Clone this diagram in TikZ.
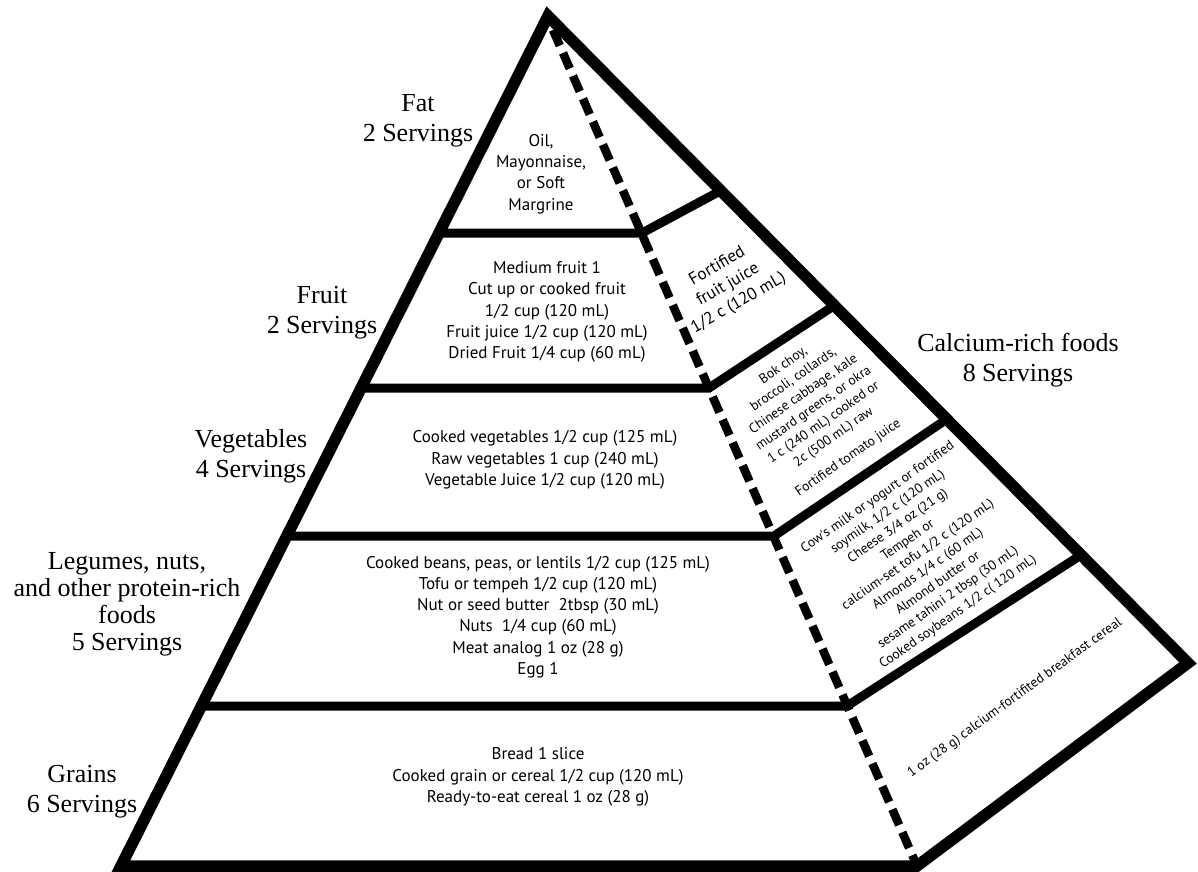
\documentclass[tikz,border=0pt]{standalone}
\usepackage{fontspec}
\setmainfont{Liberation Serif}
\newfontfamily\bodyfont{PT Sans}
\begin{document}
\begin{tikzpicture}[x=1pt,y=-1pt,
  outline/.style={line width=11.5pt, line join=miter},
  divider/.style={line width=9pt, line join=miter},
  dashline/.style={line width=8.5pt, dash pattern=on 17pt off 8pt},
  lab/.style={font=\fontsize{26}{30}\selectfont, align=center, inner sep=0pt},
  body/.style={font=\bodyfont\fontsize{17}{21.3}\selectfont, align=center, inner sep=0pt},
  smallbody/.style={font=\bodyfont\fontsize{13.6}{17.5}\selectfont, align=center, inner sep=0pt}]
\useasboundingbox (0,0) rectangle (1198,871);
% corners
\coordinate (A) at (548,16);
\coordinate (BL) at (121,866);
\coordinate (BR) at (917,866);
\coordinate (RB) at (1188,663);
\coordinate (D0) at (553,30);
% dividers
\coordinate (L1) at (437,233); \coordinate (M1) at (642,233); \coordinate (R1) at (722,190);
\coordinate (L2) at (359,388); \coordinate (M2) at (709,388); \coordinate (R2) at (835,305);
\coordinate (L3) at (286,536); \coordinate (M3) at (774,536); \coordinate (R3) at (947,419);
\coordinate (L4) at (201,706); \coordinate (M4) at (847,706); \coordinate (R4) at (1081,555);
\draw[divider] (L1) -- (M1) -- (R1);
\draw[divider] (L2) -- (M2) -- (R2);
\draw[divider] (L3) -- (M3) -- (R3);
\draw[divider] (L4) -- (M4) -- (R4);
\draw[dashline] (D0) -- (BR);
\draw[outline] (A) -- (BL) -- (BR) -- (RB) -- cycle;
% contents
\node[body] (tfat) at (541,174) {Oil,\\Mayonnaise,\\or Soft\\Margrine};
\node[body] (tfruit) at (547,312) {Medium fruit 1\\Cut up or cooked fruit\\1/2 cup (120 mL)\\Fruit juice 1/2 cup (120 mL)\\Dried Fruit 1/4 cup (60 mL)};
\node[body] (tveg) at (545,460) {Cooked vegetables 1/2 cup (125 mL)\\Raw vegetables 1 cup (240 mL)\\Vegetable Juice 1/2 cup (120 mL)};
\node[body] (tleg) at (538,617) {Cooked beans, peas, or lentils 1/2 cup (125 mL)\\Tofu or tempeh 1/2 cup (120 mL)\\Nut or seed butter\ \ 2tbsp (30 mL)\\Nuts\ \ 1/4 cup (60 mL)\\Meat analog 1 oz (28 g)\\Egg 1};
\node[body] (tgrain) at (538,777) {Bread 1 slice\\Cooked grain or cereal 1/2 cup (120 mL)\\Ready-to-eat cereal 1 oz (28 g)};
\node[body, rotate=30] (tjuice) at (728,285) {Fortified\\fruit juice\\1/2 c (120 mL)};
\node[smallbody, rotate=35] (tbok) at (816,412) {Bok choy,\\broccoli, collards,\\Chinese cabbage, kale\\mustard greens, or okra\\1 c (240 mL) cooked or\\2c (500 mL) raw\\[8pt]Fortified tomato juice};
\node[smallbody, rotate=35] (tcow) at (918,555) {Cow's milk or yogurt or fortified\\soymilk, 1/2 c (120 mL)\\Cheese 3/4 oz (21 g)\\Tempeh or\\calcium-set tofu 1/2 c (120 mL)\\Almonds 1/4 c (60 mL)\\Almond butter or\\sesame tahini 2 tbsp (30 mL)\\Cooked soybeans 1/2 c( 120 mL)};
\node[smallbody, rotate=36] (tcereal) at (1015,698) {1 oz (28 g) calcium-fortifited breakfast cereal};
% labels
\node[lab] (lfat) at (418,121) {Fat\\2 Servings};
\node[lab] (lfruit) at (322,313) {Fruit\\2 Servings};
\node[lab] (lveg) at (251,456) {Vegetables\\4 Servings};
\node[lab, font=\fontsize{26}{27}\selectfont] (lleg) at (127,604) {Legumes, nuts,\\and other protein-rich\\foods\\5 Servings};
\node[lab] (lgrain) at (82,792) {Grains\\6 Servings};
\node[lab] (lcal) at (1018,360) {Calcium-rich foods\\8 Servings};
\end{tikzpicture}
\end{document}
